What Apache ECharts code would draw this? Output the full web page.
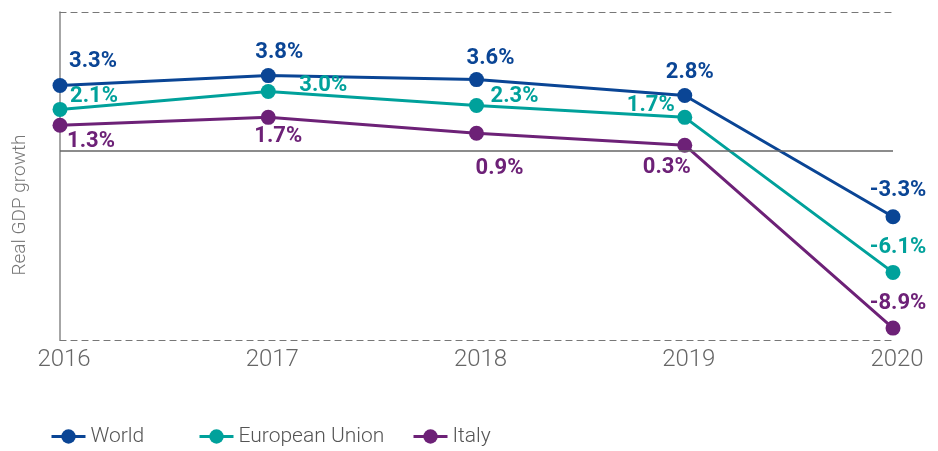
<!DOCTYPE html>
<html>
<head>
<meta charset="utf-8">
<script src="https://cdn.jsdelivr.net/npm/echarts@6/dist/echarts.min.js"></script>
<style>
  html, body { margin: 0; padding: 0; background: #fff; }
  #chart { width: 938px; height: 451px; }
</style>
</head>
<body>
<div id="chart"></div>
<script>
// data
const years = ['2016', '2017', '2018', '2019', '2020']
const world = [3.3, 3.8, 3.6, 2.8, -3.3]
const eu = [2.1, 3.0, 2.3, 1.7, -6.1]
const italy = [1.3, 1.7, 0.9, 0.3, -8.9]

// where each label sits relative to its point (centre offset, px)
const worldOffsets = [[33, -24], [11, -23], [14, -21], [5, -23], [5, -26]]
const euOffsets = [[34, -13], [55, -6], [38, -9], [-34, -12], [5, -25]]
const italyOffsets = [[31, 16], [10, 19], [23, 35], [-18, 22], [5, -25]]

const thin = 'Roboto, sans-serif'

const chart = echarts.init(document.getElementById('chart'))

function makeSeries(name, values, offsets, color) {
    return {
        name: name,
        type: 'line',
        data: values.map(function (v, i) {
            return {
                value: v,
                label: { offset: offsets[i] }
            }
        }),
        symbol: 'circle',
        symbolSize: 15,
        lineStyle: { color: color, width: 3 },
        itemStyle: { color: color },
        label: {
            show: true,
            position: 'inside',
            align: 'center',
            verticalAlign: 'middle',
            formatter: function (p) { return p.value.toFixed(1) + '%' },
            color: color,
            fontFamily: 'Roboto, sans-serif',
            fontWeight: 'bold',
            fontSize: 22
        },
        emphasis: { disabled: true },
        z: 3
    }
}

function legendAt(left, name) {
    return {
        data: [name],
        left: left,
        top: 426,
        padding: 0,
        itemWidth: 34,
        itemHeight: 18,
        itemGap: 10,
        lineStyle: { width: 3 },
        textStyle: { fontFamily: thin, fontWeight: 300, fontSize: 21, color: '#555' }
    }
}

const option = {
    animation: false,
    grid: { left: 60, right: 45, top: 12, bottom: 111 },
    legend: [legendAt(50, 'World'), legendAt(198, 'European Union'), legendAt(412, 'Italy')],
    xAxis: [
        {
            type: 'category',
            data: years,
            boundaryGap: false,
            position: 'bottom',
            axisLine: { onZero: false, lineStyle: { color: '#777', type: [6, 5], width: 1.2 } },
            axisTick: { show: false },
            axisLabel: {
                fontFamily: thin, fontWeight: 300, fontSize: 24, color: '#666',
                margin: 8, padding: [0, 0, 0, 8]
            }
        },
        {
            type: 'category',
            data: years,
            boundaryGap: false,
            position: 'top',
            axisLine: { onZero: false, lineStyle: { color: '#777', type: [6, 5], width: 1.2 } },
            axisTick: { show: false },
            axisLabel: { show: false }
        }
    ],
    yAxis: {
        type: 'value',
        min: -9.5,
        max: 7,
        axisLine: { show: true, lineStyle: { color: '#888', width: 1.5 } },
        axisTick: { show: false },
        axisLabel: { show: false },
        splitLine: { show: false }
    },
    graphic: [
        {
            type: 'text',
            x: 20,
            y: 205,
            rotation: Math.PI / 2,
            style: {
                text: 'Real GDP growth',
                fill: '#777',
                fontFamily: thin,
                fontWeight: 300,
                fontSize: 19,
                align: 'center',
                verticalAlign: 'middle'
            }
        }
    ],
    series: [
        makeSeries('World', world, worldOffsets, '#0a4595'),
        makeSeries('European Union', eu, euOffsets, '#00a19b'),
        makeSeries('Italy', italy, italyOffsets, '#6d2177'),
        {
            // zero line
            type: 'line',
            data: [],
            markLine: {
                silent: true,
                symbol: 'none',
                label: { show: false },
                lineStyle: { color: '#666', type: 'solid', width: 1.5 },
                data: [{ yAxis: 0 }]
            },
            z: 1
        }
    ]
}

chart.setOption(option)
</script>
</body>
</html>
